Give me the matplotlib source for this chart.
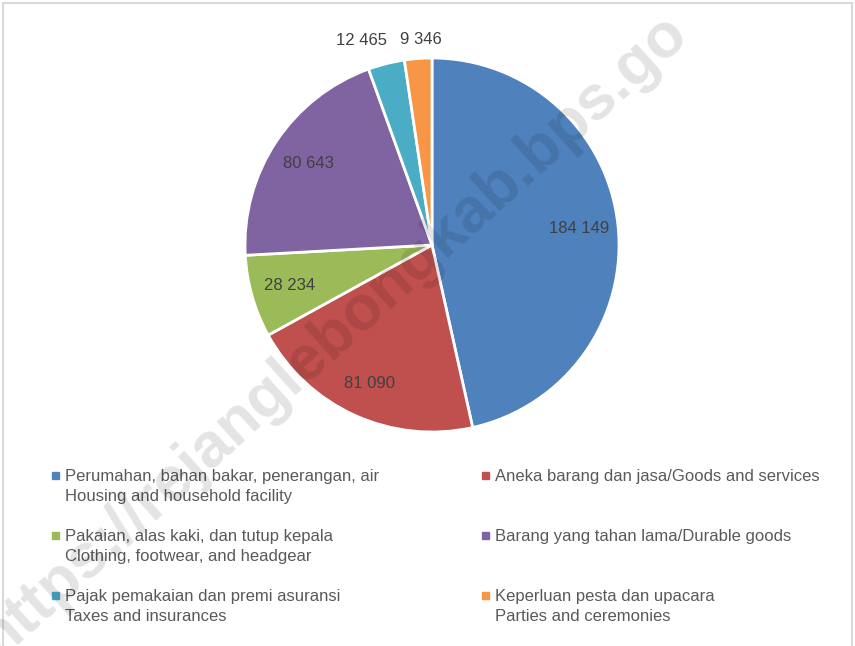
import numpy as np
import matplotlib
matplotlib.use('Agg')
import matplotlib.pyplot as plt
from matplotlib.patches import Rectangle

# data
values = [184149, 81090, 28234, 80643, 12465, 9346]
value_labels = ['184 149', '81 090', '28 234', '80 643', '12 465', '9 346']
categories = [
    'Perumahan, bahan bakar, penerangan, air\nHousing and household facility',
    'Aneka barang dan jasa/Goods and services',
    'Pakaian, alas kaki, dan tutup kepala\nClothing, footwear, and headgear',
    'Barang yang tahan lama/Durable goods',
    'Pajak pemakaian dan premi asuransi\nTaxes and insurances',
    'Keperluan pesta dan upacara\nParties and ceremonies',
]
colors = ['#4F81BD', '#C0504D', '#9BBB59', '#8064A2', '#4BACC6', '#F79646']

plt.rcParams['font.family'] = ['Liberation Sans', 'DejaVu Sans']

fig = plt.figure(figsize=(8.55, 6.46), dpi=100)

# pie centre (432,245) px, radius 187 px
cx, cy, r = 432 / 855, 1 - 245 / 646, 187
ax = fig.add_axes([cx - r / 855, cy - r / 646, 2 * r / 855, 2 * r / 646])
wedges, _ = ax.pie(values, colors=colors, startangle=90, counterclock=False,
                   wedgeprops=dict(edgecolor='white', linewidth=2))
ax.set_xlim(-1, 1)
ax.set_ylim(-1, 1)
ax.set_aspect('auto')

# data labels
dist = [0.79, 0.81, 0.79, 0.79, 1.13, 1.10]
shift = [0, 0, 0, 0, -0.1, 0.02]
for w, lab, d, s in zip(wedges, value_labels, dist, shift):
    ang = np.deg2rad((w.theta1 + w.theta2) / 2)
    ax.text(d * np.cos(ang) + s, d * np.sin(ang), lab, ha='center', va='center',
            fontsize=12, color='#404040', clip_on=False)

# legend, row-major in two columns
col_x = [52, 482]
row_y = [475, 535, 595]
for i, (lab, c) in enumerate(zip(categories, colors)):
    x = col_x[i % 2]
    y = row_y[i // 2]
    fig.add_artist(Rectangle((x / 855, 1 - (y + 4) / 646), 7 / 855, 7 / 646,
                             transform=fig.transFigure, color=c))
    fig.text((x + 13) / 855, 1 - (y - 6) / 646, lab, ha='left', va='top',
             fontsize=12, color='#595959', linespacing=1.45)

# watermark
fig.text(0.39, 0.48, 'https://rejanglebongkab.bps.go', rotation=42,
         ha='center', va='center', fontsize=45, fontweight='bold',
         color='black', alpha=0.11)

# chart border
fig.add_artist(Rectangle((3 / 855, -2 / 646), 849 / 855, 645 / 646,
                         transform=fig.transFigure, fill=False,
                         edgecolor='#D9D9D9', linewidth=1.5))

fig.savefig('out.png', dpi=100)
